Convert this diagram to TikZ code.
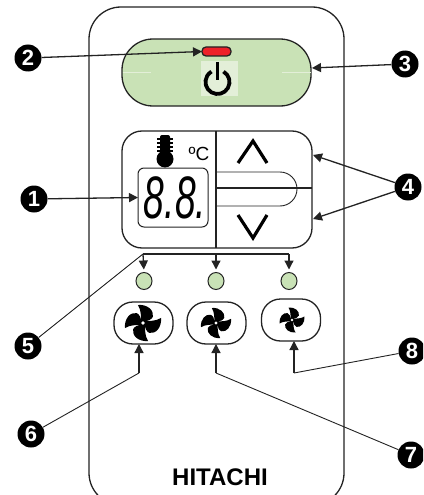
\documentclass[tikz,border=0pt]{standalone}
\usepackage{fontspec}
\setmainfont{Liberation Sans}
\usetikzlibrary{arrows.meta,shapes.geometric}
\definecolor{panelgreen}{HTML}{C9E2B6}
\definecolor{iconback}{HTML}{E3EFD8}
\definecolor{edgegray}{HTML}{232323}
\definecolor{ledred}{HTML}{EE2129}
\tikzstyle{casing}=[draw=edgegray,line width=1.3pt,inner sep=0pt,outer sep=0pt]
\tikzstyle{callout}=[circle,fill=black,text=white,minimum size=27pt,inner sep=0pt,font=\fontsize{22}{22}\selectfont\bfseries]
\tikzstyle{pointer}=[-{Triangle[length=9pt,width=9pt]},draw=edgegray,line width=1.3pt]
\tikzstyle{leader}=[draw=edgegray,line width=0.9pt]
\tikzstyle{lamp}=[casing,line width=1pt,ellipse,fill=panelgreen,minimum width=16pt,minimum height=17pt]
\tikzstyle{fanbutton}=[casing,fill=white,rounded corners=19pt,minimum width=59pt,minimum height=42pt]
\tikzset{fanblades/.pic={
    \foreach \a in {0,90,180,270}
        \fill[black,rotate=\a] (-0.1,-0.1) .. controls (-0.12,-0.4) and (-0.1,-0.7) .. (-0.28,-1) .. controls (0.25,-1.05) and (0.62,-0.7) .. (0.55,-0.35) .. controls (0.5,-0.2) and (0.25,-0.1) .. (0.1,-0.1) -- cycle;
    \fill[black] (0,0) circle (0.22);
    \fill[white] (0,0) circle (0.11);
}}
\begin{document}
\begin{tikzpicture}[x=1pt,y=-1pt]

    \clip (0,0) rectangle (423,495);
    \fill[white] (0,0) rectangle (423,495);

    \node [casing,rounded corners=32pt,minimum width=255pt,minimum height=498pt] (body) at (216.5,256) {};

    % power strip
    \node [casing,fill=panelgreen,rounded corners=31pt,minimum width=189pt,minimum height=67pt] (onoff) at (216.5,72.5) {};
    \draw[iconback,line width=0.5pt] (122.5,72) -- (151,72) (282,72) -- (310.5,72);
    \node [fill=iconback,inner sep=0pt,minimum width=37pt,minimum height=35pt] (powericon) at (219.5,78.5) {};
    \draw[black,line width=3.8pt] (223.5,71.6) arc[start angle=-60,end angle=240,radius=12];
    \draw[black,line width=3.8pt] (217.5,62) -- (217.5,80);
    \node [casing,fill=ledred,rounded corners=4pt,minimum width=29pt,minimum height=9pt] (led) at (216.5,51.5) {};

    % temperature panel
    \node [casing,fill=white,rounded corners=20pt,minimum width=190pt,minimum height=117pt] (panel) at (217,189.5) {};
    \draw[edgegray,line width=1.3pt] (216,131) -- (216,248);
    \draw[edgegray,line width=1.3pt] (216,188) -- (312,188);
    \draw[edgegray,line width=0.9pt] (216,172) -- (280,172) arc[start angle=-90,end angle=90,radius=17] -- (216,206);
    \draw[black,line width=3.2pt] (238,163) -- (253,141) -- (267,163);
    \draw[black,line width=3.2pt] (238,215) -- (253,238) -- (267,215);

    \node [casing,line width=1pt,rounded corners=6pt,minimum width=70pt,minimum height=59pt] (display) at (173,197.5) {};
    \node [xscale=0.62,font=\fontsize{60}{60}\selectfont\itshape] (digits) at (175,198) {8.8.};

    \fill[black] (165,159) circle (8.5);
    \fill[black,rounded corners=2pt] (160,135) rectangle (170,156);
    \foreach \y in {139,143,147,151}
        \draw[black,line width=1.8pt] (157,\y) -- (173,\y);
    \node [font=\fontsize{19}{19}\selectfont] (unit) at (199,154) {ºC};

    % fan speed lamps and buttons
    \node [lamp] (lampa) at (144,281) {};
    \node [lamp] (lampb) at (216,281) {};
    \node [lamp] (lampc) at (289,281) {};

    \node [fanbutton] (fana) at (143.5,323) {};
    \node [fanbutton] (fanb) at (216.5,323) {};
    \node [fanbutton] (fanc) at (291,320) {};
    \pic at (143,323) [scale=18] {fanblades};
    \pic at (216,323) [scale=15] {fanblades};
    \pic at (292,320) [scale=12.5] {fanblades};

    \node [font=\fontsize{24}{24}\selectfont\bfseries] (brand) at (220,477) {HITACHI};

    % callouts
    \node [callout] (one) at (34,199) {1};
    \node [callout] (two) at (28,58) {2};
    \node [callout] (three) at (405,64) {3};
    \node [callout] (four) at (408,187) {4};
    \node [callout] (five) at (28,346) {5};
    \node [callout] (six) at (31,434) {6};
    \node [callout] (seven) at (411,455) {7};
    \node [callout] (eight) at (412,351) {8};

    \coordinate (onoffedge) at (312,68);
    \coordinate (upedge) at (313,155);
    \coordinate (downedge) at (313,219);
    \coordinate (rail) at (143,254);
    \coordinate (railmid) at (216,254);
    \coordinate (railend) at (289,254);
    \coordinate (kneea) at (139,373);
    \coordinate (kneeb) at (216,373);
    \coordinate (kneec) at (294,373);

    \draw[pointer] (one) -- (display.west);
    \draw[pointer] (two) -- (led.west);
    \draw[pointer] (three) -- (onoffedge);
    \draw[pointer] (four) -- (upedge);
    \draw[pointer] (four) -- (downedge);

    \draw[leader] (five) -- (rail);
    \draw[edgegray,line width=1.3pt] (rail) -- (railend);
    \draw[pointer,shorten >=3pt] (rail) -- (lampa.north);
    \draw[pointer,shorten >=3pt] (railmid) -- (lampb.north);
    \draw[pointer,shorten >=3pt] (railend) -- (lampc.north);

    \draw[leader] (six) -- (kneea);
    \draw[leader] (seven) -- (kneeb);
    \draw[leader] (eight) -- (kneec);
    \draw[pointer] (kneea) -- (kneea |- fana.south);
    \draw[pointer] (kneeb) -- (kneeb |- fanb.south);
    \draw[pointer] (kneec) -- (kneec |- fanc.south);

\end{tikzpicture}
\end{document}
